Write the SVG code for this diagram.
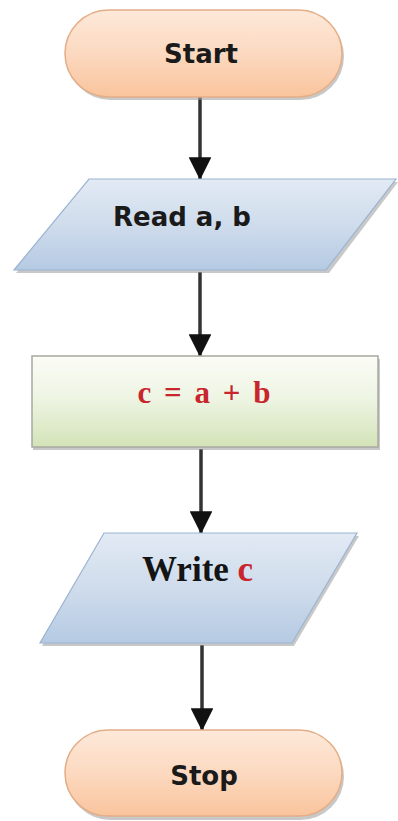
<svg xmlns="http://www.w3.org/2000/svg" width="398" height="821" viewBox="0 0 398 821">
<style>
.term{fill:url(#gPeach);stroke:#e3ad86;stroke-width:1.5}
.io{fill:url(#gBlue);stroke:#9bb3d1;stroke-width:1.2}
.proc{fill:url(#gGreen);stroke:#a8a8a0;stroke-width:1.5}
.shadow{fill:#9a9a9a;opacity:0.55}
.sans{font-family:"DejaVu Sans",Verdana,sans-serif;font-weight:bold;font-size:26px;fill:#1a1a1a}
.serif{font-family:"Liberation Serif","Times New Roman",serif;font-weight:bold}
.red{fill:#c8262c}
.conn line{stroke:#333;stroke-width:3.5}
</style>
<defs>
<linearGradient id="gPeach" x1="0" y1="0" x2="0" y2="1">
<stop offset="0" stop-color="#fde9da"/>
<stop offset="0.5" stop-color="#fcd9c0"/>
<stop offset="1" stop-color="#f9c49c"/>
</linearGradient>
<linearGradient id="gBlue" x1="0" y1="0" x2="0" y2="1">
<stop offset="0" stop-color="#e2eaf4"/>
<stop offset="0.5" stop-color="#cfdcec"/>
<stop offset="1" stop-color="#b5cae3"/>
</linearGradient>
<linearGradient id="gGreen" x1="0" y1="0" x2="0" y2="1">
<stop offset="0" stop-color="#fbfcf6"/>
<stop offset="0.45" stop-color="#eef5e4"/>
<stop offset="1" stop-color="#d4e3b8"/>
</linearGradient>
<marker id="arr" viewBox="0 0 10 10" refX="10" refY="5" markerWidth="6.5" markerHeight="6.5" markerUnits="strokeWidth" orient="auto">
<path d="M0,0 L10,5 L0,10 z" fill="#111"/>
</marker>
</defs>

<g id="connectors" class="conn">
<line x1="200" y1="97" x2="200" y2="180" marker-end="url(#arr)"/>
<line x1="200" y1="272" x2="200" y2="357" marker-end="url(#arr)"/>
<line x1="201" y1="449" x2="201" y2="534" marker-end="url(#arr)"/>
<line x1="202" y1="645" x2="202" y2="731" marker-end="url(#arr)"/>
</g>

<g id="start">
<rect class="shadow" x="67" y="13" width="277" height="87" rx="43.5"/>
<rect class="term" x="65" y="10" width="277" height="87" rx="43.5"/>
<text class="sans" x="201" y="63" text-anchor="middle">Start</text>
</g>

<g id="read">
<polygon class="shadow" points="90,182 398,182 329,273 16,273"/>
<polygon class="io" points="89,179 396,179 326,270 14,270"/>
<text class="sans" x="113" y="226">Read a, b</text>
</g>

<g id="process">
<rect class="shadow" x="33" y="359" width="347" height="91"/>
<rect class="proc" x="32" y="356" width="346" height="91"/>
<text class="serif red" x="204" y="403" font-size="31" word-spacing="5" text-anchor="middle">c = a + b</text>
</g>

<g id="write">
<polygon class="shadow" points="105,536 359,536 294,646 42,646"/>
<polygon class="io" points="104,533 357,533 292,643 40,643"/>
<text class="serif" x="142" y="581" font-size="35" fill="#141414">Write <tspan class="red">c</tspan></text>
</g>

<g id="stop">
<rect class="shadow" x="67" y="733" width="277" height="87" rx="43.5"/>
<rect class="term" x="65" y="730" width="277" height="86" rx="43"/>
<text class="sans" x="204" y="785" text-anchor="middle">Stop</text>
</g>
</svg>
